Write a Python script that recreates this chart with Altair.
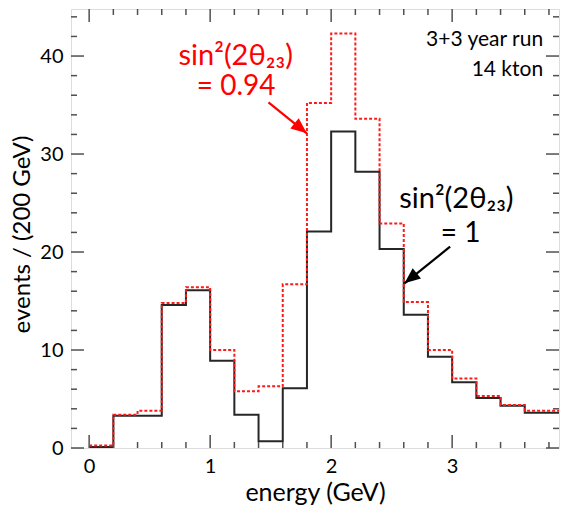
import altair as alt
import pandas as pd

# ---- data ----
bin_left = [0.0, 0.2, 0.4, 0.6, 0.8, 1.0, 1.2, 1.4, 1.6, 1.8,
            2.0, 2.2, 2.4, 2.6, 2.8, 3.0, 3.2, 3.4, 3.6, 3.8]
bin_end = 4.0
events_full = [0.1, 3.3, 3.3, 14.6, 16.1, 8.9, 3.4, 0.7, 6.1, 22.1,
               32.3, 28.2, 20.3, 13.6, 9.3, 6.7, 5.1, 4.3, 3.6, 3.6]   # sin^2(2th23) = 1
events_094 = [0.25, 3.4, 3.8, 14.8, 16.4, 10.0, 5.8, 6.3, 16.7, 35.2,
              42.3, 33.6, 22.9, 14.9, 10.0, 7.1, 5.3, 4.4, 3.8, 3.8]    # sin^2(2th23) = 0.94

x_major = [0, 1, 2, 3]
x_minor = [0.2, 0.4, 0.6, 0.8, 1.2, 1.4, 1.6, 1.8, 2.2, 2.4, 2.6, 2.8,
           3.2, 3.4, 3.6, 3.8]
y_major = [0, 10, 20, 30, 40]
y_minor = [2, 4, 6, 8, 12, 14, 16, 18, 22, 24, 26, 28, 32, 34, 36, 38, 42, 44]

ann_text = ["sin²(2θ₂₃)", "= 0.94", "sin²(2θ₂₃)", "= 1", "3+3 year run", "14 kton"]
ann_x = [1.211, 1.215, 3.035, 3.07, 3.752, 3.752]
ann_y = [40.0, 36.8, 25.4, 21.8, 41.6, 38.6]
ann_color = ["#ff0000", "#ff0000", "#000000", "#000000", "#000000", "#000000"]
ann_size = [29, 28, 29, 28, 21, 21]
ann_align = ["center", "center", "center", "center", "right", "right"]

red_arrow_x = [1.482, 1.799]
red_arrow_y = [35.28, 32.11]
blk_arrow_x = [2.983, 2.606]
blk_arrow_y = [20.54, 16.81]

# ---- layout ----
W, H = 488, 439
FONT = "Lato"
FRAME = "#505050"
xscale = alt.Scale(domain=[-0.15, 3.883], nice=False, zero=False)
yscale = alt.Scale(domain=[0, 44.8], nice=False, zero=False)

x_axis = alt.Axis(
    values=x_major, ticks=False, domain=False, grid=False, labelPadding=8,
    labelFontSize=20, labelFont=FONT, labelColor="#000",
    title="energy (GeV)", titleFontSize=25, titleFont=FONT,
    titleFontWeight="normal", titleColor="#000",
    titleBaseline="alphabetic", titleY=52)
y_axis = alt.Axis(
    values=y_major, ticks=False, domain=False, grid=False, labelPadding=8,
    labelFontSize=20, labelFont=FONT, labelColor="#000",
    title="events / (200 GeV)", titleFontSize=24, titleFont=FONT,
    titleFontWeight="normal", titleColor="#000", titleAngle=270,
    titleBaseline="alphabetic", titleAlign="center", titleX=-42, titleY=225)


def X(field):
    return alt.X(field, scale=xscale, axis=x_axis)


def Y(field):
    return alt.Y(field, scale=yscale, axis=y_axis)


def step_df(vals):
    return pd.DataFrame({"x": bin_left + [bin_end], "y": vals + [vals[-1]]})


black = alt.Chart(step_df(events_full)).mark_line(
    interpolate="step-after", color="#262626", strokeWidth=2, clip=True
).encode(x=X("x:Q"), y=Y("y:Q"))

red = alt.Chart(step_df(events_094)).mark_line(
    interpolate="step-after", color="#ff1a1a", strokeWidth=2,
    strokeDash=[3, 2], clip=True
).encode(x=X("x:Q"), y=Y("y:Q"))


def xticks(vals, length):
    d = pd.DataFrame({"x": vals})
    bot = alt.Chart(d).mark_rule(color=FRAME, strokeWidth=1.5).encode(
        x=X("x:Q"), y=alt.value(H), y2=alt.value(H - length))
    top = alt.Chart(d).mark_rule(color=FRAME, strokeWidth=1.5).encode(
        x=X("x:Q"), y=alt.value(0), y2=alt.value(length))
    return [bot, top]


def yticks(vals, length):
    d = pd.DataFrame({"y": vals})
    left = alt.Chart(d).mark_rule(color=FRAME, strokeWidth=1.5).encode(
        y=Y("y:Q"), x=alt.value(0), x2=alt.value(length))
    right = alt.Chart(d).mark_rule(color=FRAME, strokeWidth=1.5).encode(
        y=Y("y:Q"), x=alt.value(W), x2=alt.value(W - length))
    return [left, right]


tick_layers = xticks(x_major, 13) + xticks(x_minor, 6) + yticks(y_major, 13) + yticks(y_minor, 6)


def arrow(xs, ys, color, angle):
    d = pd.DataFrame({"x": xs, "y": ys})
    shaft = alt.Chart(d).mark_line(color=color, strokeWidth=2.2).encode(
        x=X("x:Q"), y=Y("y:Q"))
    tip = pd.DataFrame({"x": xs[1:], "y": ys[1:]})
    head = alt.Chart(tip).mark_point(
        shape="M0,0 L0.42,1 L-0.42,1 Z", filled=True, opacity=1,
        color=color, size=1000, angle=angle, strokeWidth=0
    ).encode(x=X("x:Q"), y=Y("y:Q"))
    return [shaft, head]


arrows = arrow(red_arrow_x, red_arrow_y, "#ff0000", 128.9) + \
    arrow(blk_arrow_x, blk_arrow_y, "#000000", 231.3)

ann = pd.DataFrame({"t": ann_text, "x": ann_x, "y": ann_y, "c": ann_color,
                    "s": ann_size, "a": ann_align})
text_layers = []
for al in ["center", "right"]:
    text_layers.append(
        alt.Chart(ann[ann["a"] == al]).mark_text(
            font=FONT, baseline="middle", align=al
        ).encode(
            x=X("x:Q"), y=Y("y:Q"),
            text="t:N",
            color=alt.Color("c:N", scale=None),
            size=alt.Size("s:Q", scale=None),
        )
    )

chart = alt.layer(
    black, *tick_layers, red, *arrows, *text_layers
).properties(
    width=W, height=H,
    autosize=alt.AutoSizeParams(type="none"),
    padding={"left": 63, "top": 1, "right": 1, "bottom": 57},
).configure_view(
    stroke=FRAME, strokeWidth=2
).configure(background="white")

chart.save("out.html", embed_options={"renderer": "svg", "actions": False})
